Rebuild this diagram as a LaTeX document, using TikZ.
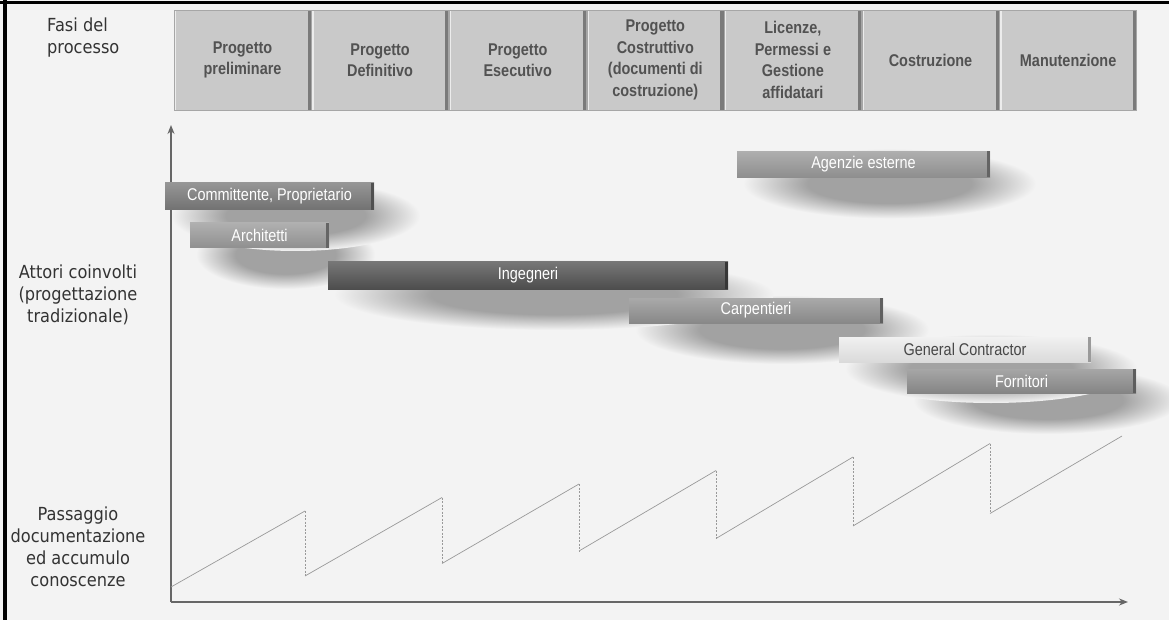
\documentclass[tikz,border=0pt]{standalone}
\usepackage{fontspec}
\setmainfont[FakeStretch=0.85]{Liberation Sans}
\newfontfamily\sidefont[FakeStretch=0.9]{DejaVu Sans}
\usepackage{tikz}
\usetikzlibrary{arrows.meta, positioning, backgrounds}

\definecolor{bggray}{HTML}{F3F3F3}
\definecolor{axisgray}{HTML}{666666}
\definecolor{phasefill}{HTML}{C9C9C9}
\definecolor{phaseedge}{HTML}{7A7A7A}
\definecolor{shadowgray}{HTML}{A2A2A2}
\definecolor{clientgray}{HTML}{7B7B7B}
\definecolor{archgray}{HTML}{9C9C9C}
\definecolor{enggray}{HTML}{545454}
\definecolor{agencygray}{HTML}{9A9A9A}
\definecolor{carpgray}{HTML}{949494}
\definecolor{gcgray}{HTML}{EDEDED}
\definecolor{supgray}{HTML}{909090}

\newcommand{\phasefont}{\fontsize{17}{21.5}\selectfont\bfseries}
\newcommand{\barfont}{\fontsize{17}{19}\selectfont}
\tikzstyle{axis} = [line width=2.7pt, draw=axisgray, -{Stealth[length=9pt, width=7pt]}]

% soft blob for the shadows
\pgfdeclareradialshading{softblob}{\pgfpoint{0bp}{0bp}}{color(0bp)=(shadowgray); color(14bp)=(shadowgray); color(25bp)=(bggray); color(50bp)=(bggray)}

\begin{document}
\begin{tikzpicture}[x=1pt, y=-1pt,
    phase/.style={rectangle, draw=gray!70, line width=0.6pt, fill=phasefill, minimum width=137pt, minimum height=100pt, inner sep=2pt, align=center, text=black!68, font=\phasefont,
        path picture={
            \fill[phaseedge] ([xshift=-3.5pt]path picture bounding box.north east) rectangle (path picture bounding box.south east);
            \fill[gray!15] (path picture bounding box.north west) rectangle ([xshift=2pt]path picture bounding box.south west);
        }},
    bar/.style={rectangle, inner sep=0pt, minimum height=26pt, text=white, font=\barfont, top color=#1!80!white, bottom color=#1!92!black,
        path picture={
            \fill[#1!65!black] ([xshift=-3pt]path picture bounding box.north east) rectangle (path picture bounding box.south east);
        }},
    barshadow/.style={shading=softblob},
    sidelabel/.style={align=center, inner sep=0pt, text=black!80, font=\sidefont\fontsize{18}{22}\selectfont},
    saw/.style={draw=gray!80, line width=0.7pt},
    drop/.style={draw=gray!80, line width=0.6pt, dash pattern=on 2pt off 1.5pt},
]

% Background and frame
\useasboundingbox (0,0) rectangle (1169,620);
\begin{scope}[on background layer]
\fill[bggray] (0,0) rectangle (1169,620);
\end{scope}
\draw[line width=3pt] (0,2.5) -- (1169,2.5);
\draw[line width=4pt] (5,0) -- (5,620);

% Phases
\node[sidelabel, anchor=west, align=left] (fasi) at (47,38) {Fasi del\\processo};
\node[phase] (prelim) at (242.5,60) {Progetto\\preliminare};
\node[phase, right=0pt of prelim] (definitivo) {Progetto\\Definitivo};
\node[phase, right=0pt of definitivo] (esecutivo) {Progetto\\Esecutivo};
\node[phase, right=0pt of esecutivo] (costruttivo) {Progetto\\Costruttivo\\(documenti di\\costruzione)};
\node[phase, right=0pt of costruttivo] (licenze) {Licenze,\\Permessi e\\Gestione\\affidatari};
\node[phase, right=0pt of licenze] (costruzione) {Costruzione};
\node[phase, right=0pt of costruzione] (manutenzione) {Manutenzione};

% Axes
\coordinate (origin) at (171,602);
\coordinate (ytop) at (171,125);
\coordinate (xend) at (1128,602);
\draw[axis] (origin) -- (ytop);
\draw[axis] (origin) -- (xend);

% Actors
\node[sidelabel] (attori) at (78,295) {Attori coinvolti\\(progettazione\\tradizionale)};
\node[bar=agencygray, minimum width=253pt] (agenzie) at (863.5,164.5) {Agenzie esterne};
\node[bar=clientgray, minimum width=209pt, minimum height=27pt] (committente) at (269.5,196.5) {Committente, Proprietario};
\node[bar=archgray, minimum width=139pt, minimum height=25pt] (architetti) at (259.5,235.5) {Architetti};
\node[bar=enggray, minimum width=400pt, minimum height=27pt] (ingegneri) at (528,275.5) {Ingegneri};
\node[bar=carpgray, minimum width=254pt, minimum height=25pt] (carpentieri) at (756,310.5) {Carpentieri};
\node[bar=gcgray, minimum width=252pt, minimum height=25pt, text=black!72] (gc) at (965,349.5) {General Contractor};
\node[bar=supgray, minimum width=229pt, minimum height=24pt] (fornitori) at (1021.5,381) {Fornitori};

% Shadows under the actor bars (lowest first)
\begin{scope}[on background layer]
\foreach \b/\w/\h in {fornitori/229/24, gc/252/25, carpentieri/254/25, ingegneri/400/27, architetti/139/25, committente/209/27, agenzie/253/26}
    \shade[barshadow] ([xshift=26pt, yshift=-19pt]\b.center) ellipse ({(\w+40)/2} and {(\h+44)/2});
\end{scope}

% Documentation and knowledge
\node[sidelabel] (passaggio) at (78,547) {Passaggio\\documentazione\\ed accumulo\\conoscenze};
\draw[saw] (171,587) -- (305,511)
    (305,576) -- (442,497.5)
    (442,563.5) -- (579,484)
    (579,551) -- (716,470.5)
    (716,538.5) -- (853,457)
    (853,526) -- (990,443.5)
    (990,513.5) -- (1122,436);
\draw[drop] (305,511) -- (305,576)
    (442,497.5) -- (442,563.5)
    (579,484) -- (579,551)
    (716,470.5) -- (716,538.5)
    (853,457) -- (853,526)
    (990,443.5) -- (990,513.5);

\end{tikzpicture}
\end{document}
